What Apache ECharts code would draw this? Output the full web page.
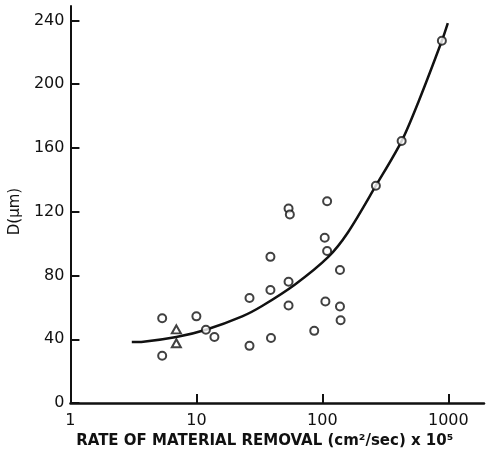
<!DOCTYPE html>
<html><head><meta charset="utf-8">
<script src="https://cdn.jsdelivr.net/npm/echarts@6/dist/echarts.min.js"></script>
<style>html,body{margin:0;padding:0;background:#fff}#c{width:486px;height:454px}</style>
</head><body><div id="c"></div>
<script>
// Measured points (rate of material removal x1e5, D in micrometres)
const circleX = [5.35,5.35,10.0,11.9,13.9,26.4,26.4,38.7,38.7,39.1,53.9,55.2,53.9,53.9,86.2,104.4,109.1,109.1,105.7,138,138,139.6,266,426,889];
const circleY = [53.2,29.7,54.4,46.0,41.4,35.9,65.9,91.7,70.9,40.8,122.0,118.3,76.1,61.2,45.3,103.7,95.4,126.6,63.7,83.5,60.6,52.0,136.3,164.3,227.2];
const triangleX = [6.93,6.93];
const triangleY = [46.2,37.5];
const curveX = [3.07,3.79,6.93,11.9,23.1,33.2,60.7,111,159.5,266,426,582,889,991];
const curveY = [38.3,38.5,41.4,46.0,54.4,60.9,74.4,91.5,107.0,136.3,164.3,189.3,227.2,238.3];
const xTicks = [1,10,100,1000];
const yTicks = [0,40,80,120,160,200,240];
const xName = 'RATE OF MATERIAL REMOVAL (cm²/sec) x 10⁵';
const yName = 'D(μm)';

const zip = (a,b) => a.map((v,i)=>[v,b[i]]);
const font = 'DejaVu Sans';
const ink = '#111';
const chart = echarts.init(document.getElementById('c'), null, {renderer:'canvas'});
chart.setOption({
  animation:false,
  backgroundColor:'#fff',
  grid:{left:66,right:2,top:6,bottom:46,containLabel:false},
  xAxis:{
    type:'log', logBase:10, min:1, max:1920,
    name:xName, nameLocation:'middle', nameGap:25,
    nameTextStyle:{fontFamily:font,fontSize:15,fontWeight:'bold',color:ink,padding:[0,25,0,0]},
    axisLine:{lineStyle:{color:ink,width:2.5}},
    axisTick:{inside:true,length:9,lineStyle:{color:ink,width:2},customValues:xTicks},
    axisLabel:{fontFamily:font,fontSize:16,color:ink,margin:10,customValues:xTicks,formatter:v=>String(v)},
    splitLine:{show:false},minorTick:{show:false}
  },
  yAxis:{
    type:'value', min:0, max:249, interval:40,
    name:yName, nameLocation:'middle', nameGap:44, nameRotate:90,
    nameTextStyle:{fontFamily:font,fontSize:15,color:ink,padding:[0,0,0,-14]},
    axisLine:{lineStyle:{color:ink,width:2}},
    axisTick:{inside:true,length:9,lineStyle:{color:ink,width:2},customValues:yTicks},
    axisLabel:{fontFamily:font,fontSize:16,color:ink,margin:6,customValues:yTicks},
    splitLine:{show:false}
  },
  series:[
    {type:'line',data:zip(curveX,curveY),smooth:0.3,showSymbol:false,symbol:'none',
     lineStyle:{color:ink,width:2.5},z:2,silent:true},
    {type:'scatter',data:zip(circleX,circleY),symbol:'circle',symbolSize:8,
     itemStyle:{color:'#fff',borderColor:ink,borderWidth:2},z:3},
    {type:'scatter',data:zip(triangleX,triangleY),symbol:'triangle',symbolSize:[9,8],
     itemStyle:{color:'#fff',borderColor:ink,borderWidth:2},z:3}
  ]
});
</script></body></html>
